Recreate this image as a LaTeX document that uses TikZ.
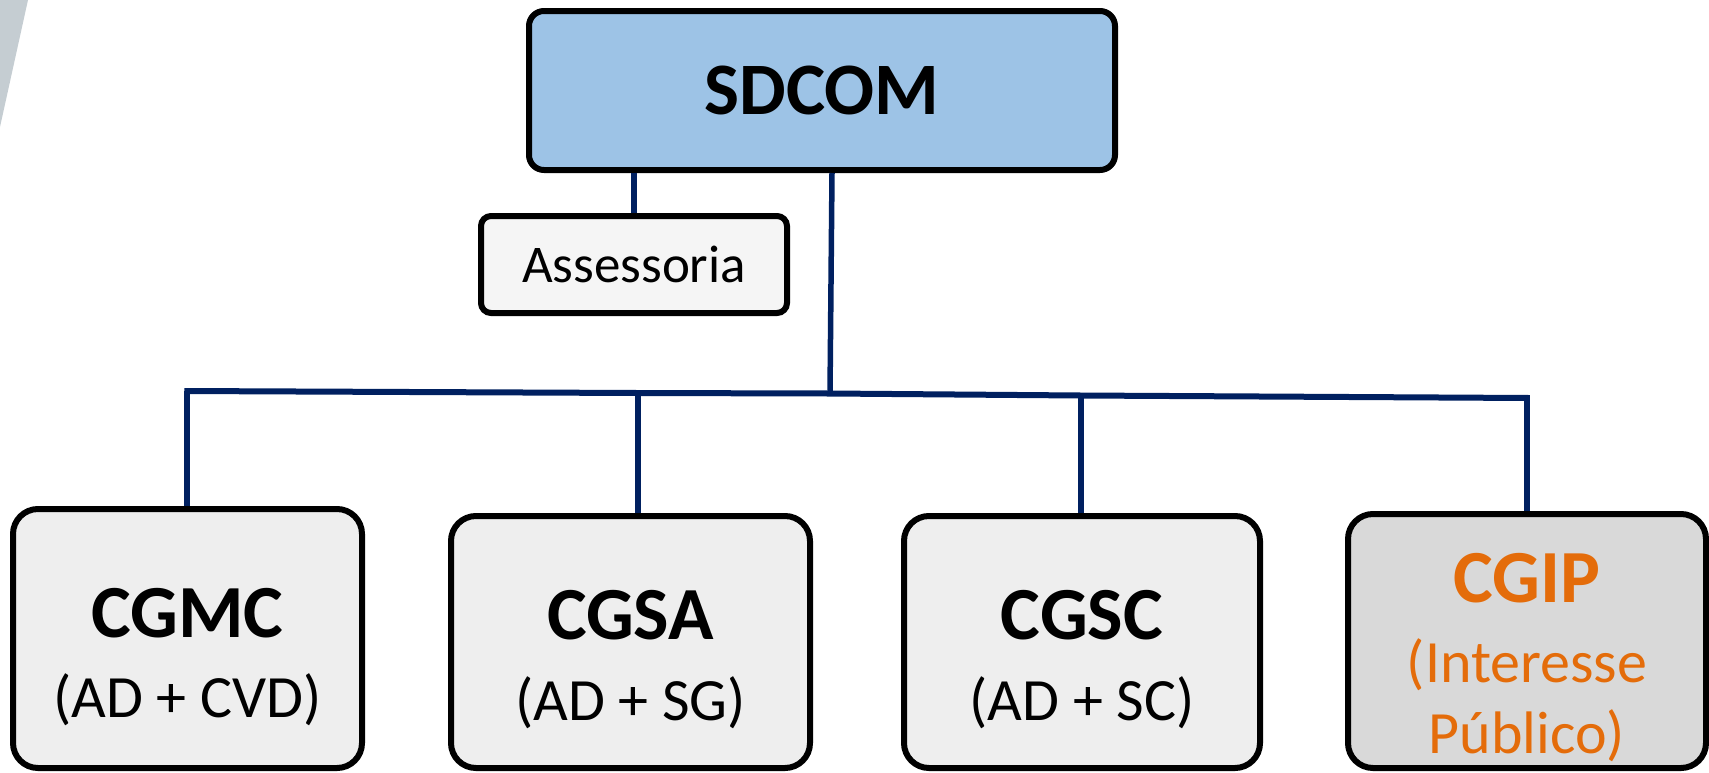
\documentclass[tikz,border=0pt]{standalone}
\usepackage{fontspec}
\setmainfont{Carlito}
\definecolor{navy}{HTML}{002060}
\definecolor{topblue}{HTML}{9DC3E6}
\definecolor{assfill}{HTML}{F5F5F5}
\definecolor{boxfill}{HTML}{EEEEEE}
\definecolor{ipfill}{HTML}{D9D9D9}
\definecolor{orange}{HTML}{E46C0A}
\definecolor{deco}{HTML}{C5CDD2}
\begin{document}
\begin{tikzpicture}[x=1pt,y=-1pt,
  box/.style={draw=black, line width=6pt, inner sep=0pt},
  unitbox/.style={box, rounded corners=25pt},
  link/.style={draw=navy, line width=5.5pt},
  bar/.style={draw=navy, line width=6pt},
  titletext/.style={anchor=base, inner sep=0pt, font=\fontsize{75}{75}\selectfont\bfseries},
  subtext/.style={anchor=base, inner sep=0pt, font=\fontsize{60}{60}\selectfont}
]
\useasboundingbox (0,0) rectangle (1709,772);
\fill[deco] (0,0) -- (28,0) -- (0,127) -- cycle;

% connectors (drawn first, boxes on top)
\coordinate (b1) at (187,391);
\coordinate (b2) at (638,393);
\coordinate (bm) at (830,393.5);
\coordinate (b3) at (1081,395.5);
\coordinate (b4) at (1527,398);
\coordinate (sa) at (634,170);
\coordinate (sm) at (832,170);

% top
\node[box, rounded corners=15pt, fill=topblue, minimum width=586pt, minimum height=159pt,
  font=\fontsize{74}{74}\selectfont\bfseries] (sdcom) at (822,90.5) {SDCOM};
\node[box, rounded corners=10pt, fill=assfill, minimum width=306pt, minimum height=97pt,
  font=\fontsize{53}{53}\selectfont] (ass) at (634,264.5) {Assessoria};

% bottom boxes
\node[unitbox, fill=boxfill, minimum width=349pt, minimum height=259pt] (cgmc) at (187.5,638.5) {};
\node[unitbox, fill=boxfill, minimum width=359pt, minimum height=252pt] (cgsa) at (630.5,642) {};
\node[unitbox, fill=boxfill, minimum width=356pt, minimum height=252pt] (cgsc) at (1082,642) {};
\node[unitbox, fill=ipfill, minimum width=358pt, minimum height=254pt] (cgip) at (1527,641) {};

\node[titletext] (cgmct) at (187.5,637) {CGMC};
\node[subtext] (cgmcs) at (187.5,717) {(AD + CVD)};
\node[titletext] (cgsat) at (630.5,639) {CGSA};
\node[subtext] (cgsas) at (630.5,720) {(AD + SG)};
\node[titletext] (cgsct) at (1082,639) {CGSC};
\node[subtext] (cgscs) at (1082,720) {(AD + SC)};
\node[titletext, text=orange] (cgipt) at (1527,602) {CGIP};
\node[subtext, text=orange] (cgips1) at (1527,682) {(Interesse};
\node[subtext, text=orange] (cgips2) at (1527,753) {Público)};

\draw[link] (sa |- sdcom.south) -- (ass.north);
\draw[link] (sm |- sdcom.south) -- (bm);
\draw[bar] ([xshift=-2.75pt]b1) -- (b2) -- (bm) -- (b3) -- ([xshift=2.75pt]b4);
\draw[link] (b1) -- (b1 |- cgmc.north);
\draw[link] (b2) -- (b2 |- cgsa.north);
\draw[link] (b3) -- (b3 |- cgsc.north);
\draw[link] (b4) -- (b4 |- cgip.north);
\end{tikzpicture}
\end{document}
